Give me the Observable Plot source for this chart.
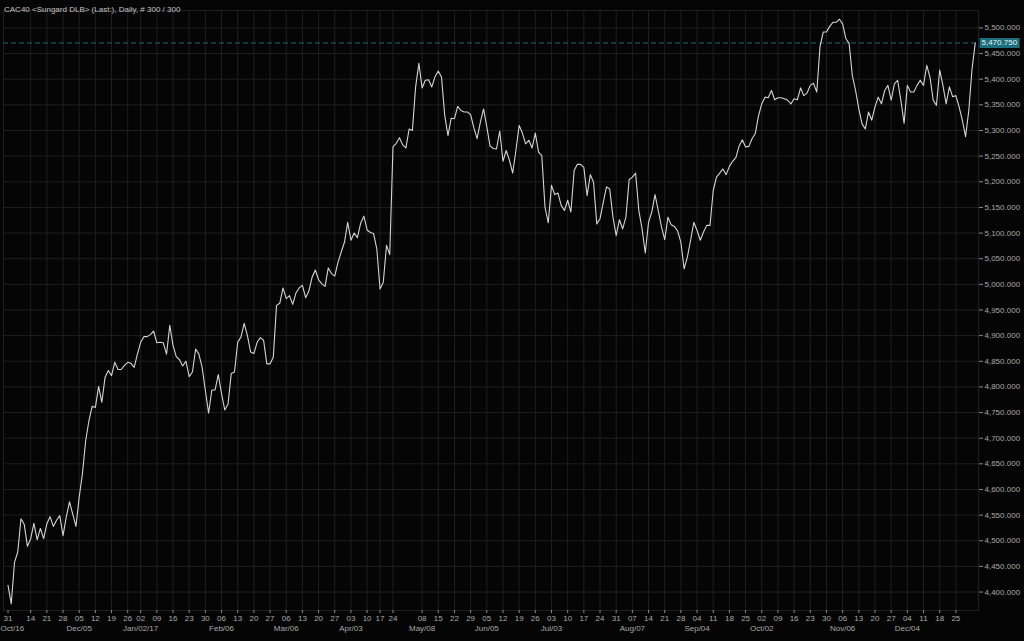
<!DOCTYPE html>
<html><head><meta charset="utf-8">
<script src="https://cdn.jsdelivr.net/npm/d3@7"></script>
<script src="https://cdn.jsdelivr.net/npm/@observablehq/plot@0.6"></script>
<style>
html,body{margin:0;padding:0;background:#050505;overflow:hidden}
#chart{position:relative;width:1024px;height:641px}
</style></head><body><div id="chart"></div>
<script>
const title = "CAC40 <Sungard DLB> (Last:), Daily, # 300 / 300";
const startDate = "2016-11-03", endDate = "2018-01-05";
const holidays = ["2016-12-26","2017-04-14","2017-04-17","2017-05-01","2017-12-25","2017-12-26","2018-01-01"];
const closes = [
4413,4377,4458,4478,4543,4532,4489,4504,4534,4502,
4524,4504,4533,4547,4528,4540,4549,4510,4546,4576,
4552,4528,4585,4631,4695,4734,4762,4760,4801,4770,
4819,4832,4822,4848,4834,4834,4842,4848,4846,4838,
4864,4887,4898,4898,4902,4909,4886,4887,4886,4864,
4920,4881,4859,4853,4841,4850,4820,4829,4874,4864,
4838,4793,4749,4794,4794,4824,4787,4755,4766,4826,
4829,4887,4897,4924,4900,4868,4865,4887,4896,4891,
4845,4845,4858,4959,4963,4993,4972,4978,4961,4983,
4993,4998,4974,4987,5014,5028,5009,5001,4996,5032,
5021,5016,5043,5063,5082,5121,5086,5100,5091,5119,
5133,5106,5101,5099,5069,4991,5004,5076,5058,5268,
5275,5286,5272,5266,5303,5300,5385,5431,5383,5398,
5399,5385,5405,5416,5404,5329,5290,5324,5323,5347,
5339,5336,5336,5331,5305,5284,5316,5342,5307,5270,
5265,5264,5299,5240,5261,5242,5217,5261,5310,5295,
5274,5281,5266,5295,5258,5251,5150,5120,5193,5175,
5178,5154,5144,5164,5141,5222,5234,5234,5228,5173,
5214,5199,5118,5128,5160,5190,5186,5131,5095,5126,
5108,5131,5204,5209,5217,5144,5108,5061,5121,5141,
5175,5144,5112,5087,5131,5116,5113,5104,5082,5030,
5053,5086,5121,5105,5086,5102,5115,5115,5183,5209,
5217,5225,5214,5230,5240,5247,5270,5282,5268,5269,
5284,5294,5329,5352,5365,5364,5378,5360,5364,5364,
5362,5359,5352,5362,5360,5383,5368,5373,5388,5392,
5375,5463,5492,5492,5503,5511,5511,5517,5508,5479,
5470,5407,5378,5342,5313,5303,5336,5320,5346,5365,
5352,5378,5388,5359,5391,5398,5359,5314,5388,5375,
5375,5388,5398,5388,5427,5404,5359,5349,5418,5388,
5352,5385,5366,5368,5346,5320,5288,5339,5420,5470.75
];
const yTicks = d3.range(4400, 5501, 50);
const skippedWeeks = ["2016-11-07","2017-05-01","2018-01-01"];
const monthTickDates = ["2016-10-31","2016-12-05","2017-01-02","2017-02-06","2017-03-06","2017-04-03","2017-05-08","2017-06-05","2017-07-03","2017-08-07","2017-09-04","2017-10-02","2017-11-06","2017-12-04"];
const monthTickLabels = ["Oct/16","Dec/05","Jan/02/17","Feb/06","Mar/06","Apr/03","May/08","Jun/05","Jul/03","Aug/07","Sep/04","Oct/02","Nov/06","Dec/04"];

const parse = d3.utcParse("%Y-%m-%d"), fmt = d3.utcFormat("%Y-%m-%d"), fmtDay = d3.utcFormat("%d");
const hol = new Set(holidays);
const days = d3.utcDay.range(parse(startDate), d3.utcDay.offset(parse(endDate), 1))
  .filter(d => d.getUTCDay() % 6 !== 0 && !hol.has(fmt(d)));
const data = closes.map((v, i) => ({i, date: days[i], v}));

const weekTicks = [];
days.forEach((d, i) => {
  const mon = d3.utcMonday.floor(d);
  const isNew = i === 0 || +d3.utcMonday.floor(days[i - 1]) !== +mon;
  if (isNew && !skippedWeeks.includes(fmt(mon))) weekTicks.push({i, key: fmt(mon), label: fmtDay(mon)});
});
const weekLabel = new Map(weekTicks.map(w => [w.i, w.label]));
const monthTicks = monthTickDates.map((k, j) => ({i: weekTicks.find(w => w.key === k).i, label: monthTickLabels[j]}));

const last = closes[closes.length - 1];
const lastLabel = d3.format(",.3f")(last);
const gridColor = "#1f1f1f", textColor = "#a9a9a9";
const chart = Plot.plot({
  width: 1024, height: 641,
  marginTop: 10, marginBottom: 31, marginLeft: 3, marginRight: 46,
  style: {background: "#050505", fontFamily: "'Liberation Sans', Arial, sans-serif", fontSize: "8px", color: textColor},
  x: {domain: [-1.4, 300], axis: null},
  y: {domain: [4364, 5534], axis: null},
  marks: [
    Plot.gridY(yTicks, {stroke: gridColor, strokeOpacity: 1}),
    Plot.gridX(weekTicks.filter(w => w.i > 0).map(w => w.i), {stroke: gridColor, strokeOpacity: 1}),
    Plot.frame({stroke: gridColor}),
    Plot.ruleY([last], {stroke: "#1f6673", strokeDasharray: "5,3"}),
    Plot.lineY(data, {x: "i", y: "v", stroke: "#d4d4d4", strokeWidth: 1.1}),
    Plot.axisY(yTicks, {anchor: "right", label: null, tickSize: 4, tickPadding: 2, tickFormat: d3.format(",.3f"), stroke: "#8a8a8a", fill: textColor, fontSize: 8}),
    Plot.axisX(weekTicks.map(w => w.i), {anchor: "bottom", label: null, tickSize: 3, tickPadding: 2, tickFormat: i => weekLabel.get(i), stroke: "#8a8a8a", fill: textColor, fontSize: 8}),
    Plot.text(monthTicks.slice(1), {x: "i", text: "label", frameAnchor: "bottom", dy: 20, fill: textColor, fontSize: 8}),
    Plot.text(monthTicks.slice(0, 1), {x: "i", text: "label", frameAnchor: "bottom", dy: 20, dx: -7.5, textAnchor: "start", fill: textColor, fontSize: 8}),
    Plot.text([title], {frameAnchor: "top-left", dx: 0.5, dy: -4.5, textAnchor: "start", fill: "#c4c4c4", fontSize: 8}),
    Plot.text([last], {y: d => d, text: () => lastLabel, frameAnchor: "right", dx: 3, textAnchor: "start", fill: "#e8f4f6", fontSize: 8})
  ]
});
document.getElementById("chart").appendChild(chart);
const svg = d3.select(chart.tagName.toLowerCase() === "svg" ? chart : chart.querySelector("svg"));
svg.selectAll("text").filter(function() { return this.textContent === lastLabel && this.getAttribute("font-size") !== null || this.textContent === lastLabel; })
  .each(function() {
    if (this.parentNode.querySelector("rect.lastbox")) return;
    const bb = this.getBBox();
    const r = document.createElementNS("http://www.w3.org/2000/svg", "rect");
    r.setAttribute("class", "lastbox");
    const tr = this.getAttribute("transform");
    if (tr) r.setAttribute("transform", tr);
    r.setAttribute("x", bb.x - 2);
    r.setAttribute("y", bb.y - 0.5);
    r.setAttribute("width", bb.width + 4);
    r.setAttribute("height", bb.height + 1);
    r.setAttribute("fill", "#1b6e7c");
    this.parentNode.insertBefore(r, this);
  });
</script></body></html>
